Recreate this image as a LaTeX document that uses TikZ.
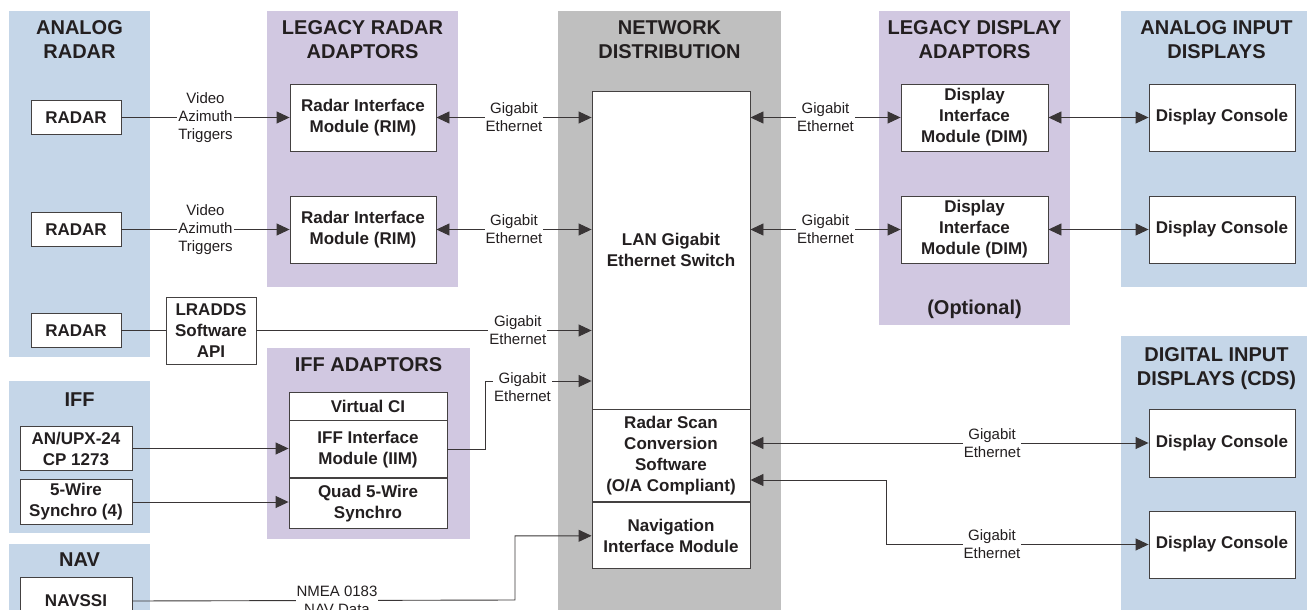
\documentclass[tikz,border=0pt]{standalone}
\usepackage{fontspec}
\setmainfont{Liberation Sans}
\usetikzlibrary{positioning, arrows.meta}

\definecolor{bluebg}{RGB}{197,214,232}
\definecolor{purplebg}{RGB}{209,200,225}
\definecolor{graybg}{RGB}{191,191,191}
\definecolor{inkc}{RGB}{35,31,32}

\begin{document}
\begin{tikzpicture}[x=1pt, y=-1pt, >={Triangle[length=13pt, width=12pt]}]
        % Define block styles
        \tikzstyle{block} = [rectangle, draw=inkc!85, line width=0.9pt, fill=white, align=center, inner sep=0pt, text=inkc, font=\bfseries\fontsize{17}{21}\selectfont]
        \tikzstyle{title} = [align=center, anchor=north, inner sep=0pt, text=inkc, font=\bfseries\fontsize{20}{24}\selectfont]
        \tikzstyle{wire} = [align=center, fill=white, inner sep=1pt, text=inkc, font=\fontsize{15}{18}\selectfont]
        \tikzstyle{link} = [line width=0.9pt, draw=inkc!90]

        \useasboundingbox (0,0) rectangle (1307,610);

        % Background areas
        \fill[bluebg] (9,11) rectangle (150,357);
        \fill[purplebg] (267,11) rectangle (458,287);
        \fill[graybg] (558,11) rectangle (781,615);
        \fill[purplebg] (879,11) rectangle (1070,325);
        \fill[bluebg] (1121,11) rectangle (1312,287);
        \fill[bluebg] (1121,336) rectangle (1312,615);
        \fill[bluebg] (9,381) rectangle (150,533);
        \fill[purplebg] (267,348) rectangle (470,539);
        \fill[bluebg] (9,544) rectangle (150,615);

        % Area titles
        \node[title] (hanalog) at (79.5,20) {ANALOG\\RADAR};
        \node[title] (hlegradar) at (362.5,20) {LEGACY RADAR\\ADAPTORS};
        \node[title] (hnetwork) at (669.5,20) {NETWORK\\DISTRIBUTION};
        \node[title] (hlegdisplay) at (974.5,20) {LEGACY DISPLAY\\ADAPTORS};
        \node[title] (hanalogin) at (1216.5,20) {ANALOG INPUT\\DISPLAYS};
        \node[title] (hdigitalin) at (1216.5,347) {DIGITAL INPUT\\DISPLAYS (CDS)};
        \node[title] (hiffadapt) at (368.5,357) {IFF ADAPTORS};
        \node[title] (hiff) at (79.5,393) {IFF};
        \node[title] (hnav) at (79.5,553) {NAV};
        \node[title, anchor=center] (optional) at (974.5,309) {(Optional)};

        % Place nodes
        \node[block, minimum width=90pt, minimum height=34pt] (radar1) at (76,117.5) {RADAR};
        \node[block, minimum width=90pt, minimum height=34pt] (radar2) at (76,229.5) {RADAR};
        \node[block, minimum width=90pt, minimum height=34pt] (radar3) at (76,330.5) {RADAR};
        \node[block, minimum width=90pt, minimum height=67pt] (lradds) at (211,330.5) {LRADDS\\Software\\API};
        \node[block, minimum width=146pt, minimum height=67pt] (rim1) at (363,117.5) {Radar Interface\\Module (RIM)};
        \node[block, minimum width=146pt, minimum height=67pt] (rim2) at (363,229.5) {Radar Interface\\Module (RIM)};
        \node[block, minimum width=158pt, minimum height=318pt] (lan) at (671,250) {LAN Gigabit\\Ethernet Switch};
        \node[block, minimum width=158pt, minimum height=92pt, below=0pt of lan] (rsc) {Radar Scan\\Conversion\\Software\\(O/A Compliant)};
        \node[block, minimum width=158pt, minimum height=66pt, below=0pt of rsc] (navmod) {Navigation\\Interface Module};
        \node[block, minimum width=147pt, minimum height=67pt] (dim1) at (974.5,117.5) {Display\\Interface\\Module (DIM)};
        \node[block, minimum width=147pt, minimum height=67pt] (dim2) at (974.5,229.5) {Display\\Interface\\Module (DIM)};
        \node[block, minimum width=146pt, minimum height=67pt] (console1) at (1222,117.5) {Display Console};
        \node[block, minimum width=146pt, minimum height=67pt] (console2) at (1222,229.5) {Display Console};
        \node[block, minimum width=146pt, minimum height=68pt] (dconsole1) at (1222,443) {Display Console};
        \node[block, minimum width=146pt, minimum height=67pt] (dconsole2) at (1222,544.5) {Display Console};
        \node[block, minimum width=112pt, minimum height=44pt] (upx) at (76,448.5) {AN/UPX-24\\CP 1273};
        \node[block, minimum width=112pt, minimum height=45pt] (fivewire) at (76,502) {5-Wire\\Synchro (4)};
        \node[block, minimum width=112pt, minimum height=48pt] (navssi) at (76,601) {NAVSSI};
        \node[block, minimum width=158pt, minimum height=28pt] (vci) at (368,406) {Virtual CI};
        \node[block, minimum width=158pt, minimum height=57pt, below=0pt of vci] (iim) {IFF Interface\\Module (IIM)};
        \node[block, minimum width=158pt, minimum height=50pt, below=0pt of iim] (quad) {Quad 5-Wire\\Synchro};

        % Bend points
        \coordinate (iimbend) at (485,381);
        \coordinate (navbend) at (515,600);
        \coordinate (dispbend) at (886,480);

        % Draw connections as arrows
        \draw[link, ->] (radar1) -- node[wire] (vat1) {Video\\Azimuth\\Triggers} (rim1);
        \draw[link, ->] (radar2) -- node[wire] (vat2) {Video\\Azimuth\\Triggers} (rim2);
        \draw[link] (radar3) -- (lradds);
        \draw[link, ->] (lradds) -- node[wire, pos=0.78] (gig3) {Gigabit\\Ethernet} (lradds -| lan.west);
        \draw[link, <->] (rim1) -- node[wire] (gig1) {Gigabit\\Ethernet} (rim1 -| lan.west);
        \draw[link, <->] (rim2) -- node[wire] (gig2) {Gigabit\\Ethernet} (rim2 -| lan.west);
        \draw[link, <->] (dim1 -| lan.east) -- node[wire] (gig4) {Gigabit\\Ethernet} (dim1);
        \draw[link, <->] (dim2 -| lan.east) -- node[wire] (gig5) {Gigabit\\Ethernet} (dim2);
        \draw[link, <->] (dim1) -- (console1);
        \draw[link, <->] (dim2) -- (console2);
        \draw[link, ->] (upx) -- (upx -| iim.west);
        \draw[link, ->] (fivewire) -- (fivewire -| quad.west);
        \draw[link, ->] (iim.east) -| (iimbend) -- (iimbend -| lan.west);
        \draw[link, ->] (navssi.east) -- (navbend) |- (navmod.west);
        \draw[link, <->] (dconsole1 -| rsc.east) -- node[wire, pos=0.607] (gig7) {Gigabit\\Ethernet} (dconsole1);
        \draw[link, <->] (dispbend -| rsc.east) -- (dispbend) |- (dconsole2);

        % Add text on the bent arrows
        \node[wire] (gig6) at (522.5,387.5) {Gigabit\\Ethernet};
        \node[wire] (gig8) at (992,544.5) {Gigabit\\Ethernet};
        \node[wire] (nmea) at (337,600) {NMEA 0183\\NAV Data};
    \end{tikzpicture}
\end{document}
